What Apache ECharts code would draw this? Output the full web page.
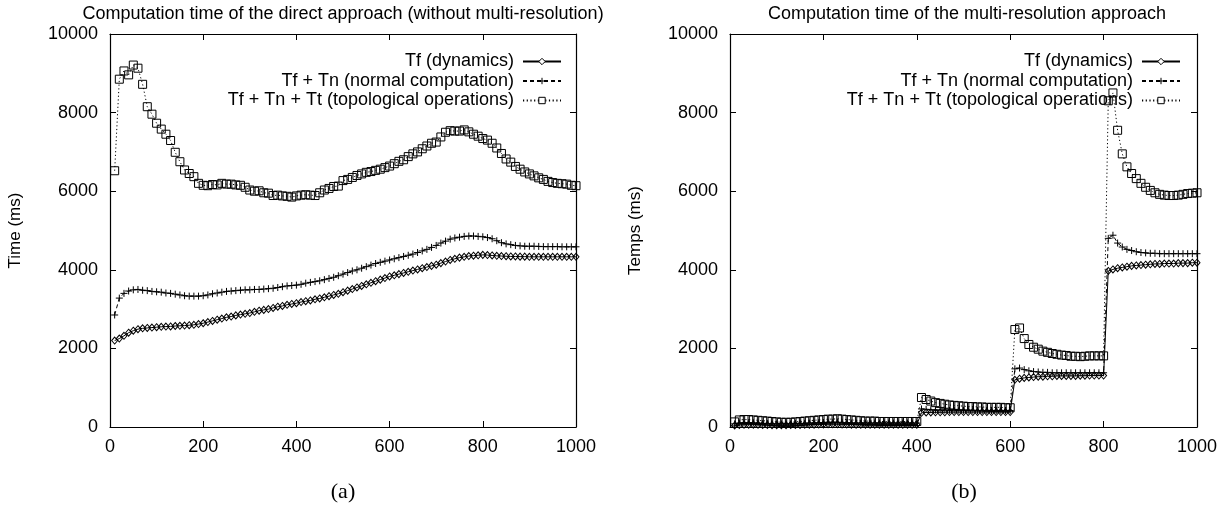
<!DOCTYPE html>
<html>
<head>
<meta charset="utf-8">
<script src="https://cdn.jsdelivr.net/npm/echarts@6/dist/echarts.min.js"></script>
<style>
html,body{margin:0;padding:0;background:#fff;}
#c{width:1226px;height:527px;}
</style>
</head>
<body>
<div id="c"></div>
<script>
// ---- data ----
const titleA = 'Computation time of the direct approach (without multi-resolution)';
const titleB = 'Computation time of the multi-resolution approach';
const yNameA = 'Time (ms)';
const yNameB = 'Temps (ms)';
const seriesNames = ['Tf (dynamics)', 'Tf + Tn (normal computation)', 'Tf + Tn + Tt (topological operations)'];
const xTicks = [0, 200, 400, 600, 800, 1000];
const yTicks = [0, 2000, 4000, 6000, 8000, 10000];

const xs = [10,20,30,40,50,60,70,80,90,100,
110,120,130,140,150,160,170,180,190,200,
210,220,230,240,250,260,270,280,290,300,
310,320,330,340,350,360,370,380,390,400,
410,420,430,440,450,460,470,480,490,500,
510,520,530,540,550,560,570,580,590,600,
610,620,630,640,650,660,670,680,690,700,
710,720,730,740,750,760,770,780,790,800,
810,820,830,840,850,860,870,880,890,900,
910,920,930,940,950,960,970,980,990,1000];

// (a) direct approach
const aTf = [2200,2250,2320,2400,2450,2490,2510,2520,2530,2540,
2550,2555,2560,2570,2575,2580,2590,2600,2620,2640,
2670,2700,2730,2760,2790,2810,2840,2860,2880,2900,
2930,2960,2980,3000,3030,3060,3080,3110,3130,3150,
3180,3200,3220,3250,3270,3300,3330,3360,3390,3430,
3470,3510,3550,3590,3630,3670,3710,3750,3790,3830,
3860,3890,3920,3950,3980,4010,4040,4070,4100,4130,
4170,4210,4250,4280,4310,4330,4350,4360,4370,4380,
4375,4365,4355,4350,4345,4340,4340,4335,4335,4330,
4330,4330,4330,4330,4330,4330,4330,4330,4330,4330];
const aTn = [2850,3280,3400,3460,3490,3500,3480,3470,3450,3440,
3430,3410,3400,3380,3360,3340,3330,3330,3330,3340,
3360,3390,3410,3430,3450,3460,3470,3480,3490,3490,
3500,3500,3510,3520,3530,3550,3570,3590,3600,3610,
3630,3660,3680,3700,3720,3750,3780,3810,3850,3890,
3930,3970,4000,4040,4080,4120,4160,4190,4220,4250,
4280,4310,4340,4370,4400,4440,4480,4520,4570,4620,
4680,4730,4780,4810,4830,4850,4860,4860,4850,4840,
4820,4790,4740,4690,4660,4640,4620,4610,4600,4600,
4600,4595,4590,4590,4590,4590,4585,4585,4585,4585];
const aTt = [6520,8850,9060,8960,9210,9130,8720,8150,7960,7730,
7580,7450,7290,6990,6750,6540,6450,6370,6200,6150,
6140,6170,6160,6200,6180,6180,6160,6150,6100,6030,
6000,6010,5960,5950,5890,5900,5880,5870,5850,5880,
5900,5910,5900,5890,5960,6030,6070,6120,6130,6270,
6300,6350,6400,6440,6480,6500,6530,6560,6600,6640,
6700,6760,6800,6880,6950,7000,7080,7150,7220,7250,
7380,7500,7540,7530,7530,7560,7510,7450,7400,7340,
7300,7220,7100,6960,6820,6740,6630,6560,6490,6440,
6390,6340,6300,6250,6220,6200,6190,6180,6150,6140];

// (b) multi-resolution approach
const bTf = [40,50,60,60,60,55,50,50,45,45,
45,45,50,50,50,55,60,60,65,65,
70,70,70,65,65,60,60,60,60,60,
60,60,60,60,60,60,60,60,60,60,
360,370,370,375,375,375,380,380,380,380,
380,380,380,380,380,380,380,380,380,380,
1200,1230,1250,1260,1270,1280,1280,1290,1290,1300,
1300,1300,1300,1300,1305,1305,1310,1310,1310,1310,
3970,4010,4040,4060,4080,4100,4110,4120,4130,4140,
4150,4150,4160,4160,4160,4170,4170,4170,4180,4180];
const bTn = [80,100,110,110,100,100,90,90,80,80,
80,80,80,90,90,90,100,100,110,110,
120,120,120,110,110,100,100,100,100,100,
100,100,100,100,100,100,100,100,100,100,
460,450,440,430,430,430,425,425,425,425,
425,425,420,420,420,420,420,420,420,420,
1480,1500,1460,1430,1410,1400,1390,1390,1380,1380,
1380,1380,1380,1380,1380,1380,1380,1380,1380,1380,
4800,4880,4680,4580,4520,4490,4460,4440,4430,4420,
4420,4410,4410,4410,4410,4410,4410,4410,4410,4410];
const bTt = [130,180,190,190,180,170,160,150,140,130,
120,120,120,130,140,150,160,170,180,190,
200,200,210,200,190,180,170,160,150,150,
150,140,140,140,140,140,140,140,140,140,
750,700,660,620,600,580,560,550,540,530,
520,520,510,510,500,500,500,500,490,490,
2480,2520,2250,2100,2030,1980,1930,1900,1870,1850,
1830,1820,1800,1800,1790,1800,1810,1810,1810,1810,
8300,8500,7550,6950,6620,6450,6320,6200,6100,6020,
5960,5920,5900,5890,5890,5900,5920,5940,5950,5960];

// ---- chart ----
const FONT = 'Liberation Sans, Arial, Helvetica, sans-serif';
function pairs(ys){ return xs.map((x,i)=>[x, ys[i]]); }

const grids = [
  {left:110, top:34, width:466, height:393},
  {left:730, top:34, width:467, height:393}
];
const xAxes = [], yAxes = [];
[0,1].forEach(g=>{
  const base = {type:'value', min:0, max:1000, interval:200, gridIndex:g,
    axisLine:{show:true, onZero:false, lineStyle:{color:'#000', width:1.2}},
    axisTick:{show:true, inside:true, length:6, lineStyle:{color:'#000'}},
    splitLine:{show:false}};
  xAxes.push(Object.assign({}, base, {position:'bottom',
    axisLabel:{color:'#000', fontSize:18, fontFamily:FONT, margin:11,
      formatter:v=> xTicks.indexOf(v)>=0 ? String(v) : ''}}));
  xAxes.push(Object.assign({}, base, {position:'top', axisLabel:{show:false}}));
  const ybase = {type:'value', min:0, max:10000, interval:2000, gridIndex:g,
    axisLine:{show:true, onZero:false, lineStyle:{color:'#000', width:1.2}},
    axisTick:{show:true, inside:true, length:6, lineStyle:{color:'#000'}},
    splitLine:{show:false}};
  yAxes.push(Object.assign({}, ybase, {position:'left',
    name: g===0 ? yNameA : yNameB, nameLocation:'middle', nameGap:86, nameRotate:90,
    nameTextStyle:{color:'#000', fontSize:17, fontFamily:FONT},
    axisLabel:{color:'#000', fontSize:18, fontFamily:FONT, margin:12,
      formatter:v=> yTicks.indexOf(v)>=0 ? String(v) : ''}}));
  yAxes.push(Object.assign({}, ybase, {position:'right', axisLabel:{show:false}}));
});

const styles = [
  {symbol:'diamond', symbolSize:[6,7], lineType:'solid'},
  {symbol:'path://M0,5L10,5M5,0L5,10', symbolSize:7, lineType:[4,3]},
  {symbol:'rect', symbolSize:8, lineType:[1.2,2.5]}
];
const series = [];
const dataSets = [[aTf,aTn,aTt],[bTf,bTn,bTt]];
[0,1].forEach(g=>{
  dataSets[g].forEach((ys,k)=>{
    series.push({
      name: seriesNames[k], type:'line', xAxisIndex:g*2, yAxisIndex:g*2,
      data: pairs(ys), symbol: styles[k].symbol, symbolSize: styles[k].symbolSize,
      showSymbol:true, showAllSymbol:true, animation:false,
      lineStyle:{color:'#000', width:1, type: styles[k].lineType},
      itemStyle:{color:'rgba(255,255,255,0)', borderColor:'#000', borderWidth:1},
      emphasis:{disabled:true}, z: 3 + k
    });
  });
});

const legendCommon = {
  orient:'vertical', align:'right', itemWidth:38, itemHeight:8, itemGap:1.5,
  padding:0, selectedMode:false, data: seriesNames,
  itemStyle:{color:'#fff', borderColor:'#000', borderWidth:1},
  textStyle:{color:'#000', fontSize:18, fontFamily:FONT, lineHeight:17, padding:[0,4,0,0]},
  top:52.5
};
const option = {
  animation:false,
  backgroundColor:'#fff',
  grid: grids,
  xAxis: xAxes,
  yAxis: yAxes,
  legend: [
    Object.assign({}, legendCommon, {right: 1226-562}),
    Object.assign({}, legendCommon, {right: 1226-1181})
  ],
  graphic: [
    {type:'text', x:343, y:14, style:{text:titleA, align:'center', verticalAlign:'middle', font:'18px '+FONT, fill:'#000'}},
    {type:'text', x:967, y:14, style:{text:titleB, align:'center', verticalAlign:'middle', font:'18px '+FONT, fill:'#000'}},
    {type:'text', x:343, y:492, style:{text:'(a)', align:'center', verticalAlign:'middle', font:'22px "Liberation Serif", "DejaVu Serif", serif', fill:'#000'}},
    {type:'text', x:964, y:492, style:{text:'(b)', align:'center', verticalAlign:'middle', font:'22px "Liberation Serif", "DejaVu Serif", serif', fill:'#000'}}
  ],
  series: series
};
const chart = echarts.init(document.getElementById('c'), null, {renderer:'canvas'});
chart.setOption(option);
</script>
</body>
</html>
